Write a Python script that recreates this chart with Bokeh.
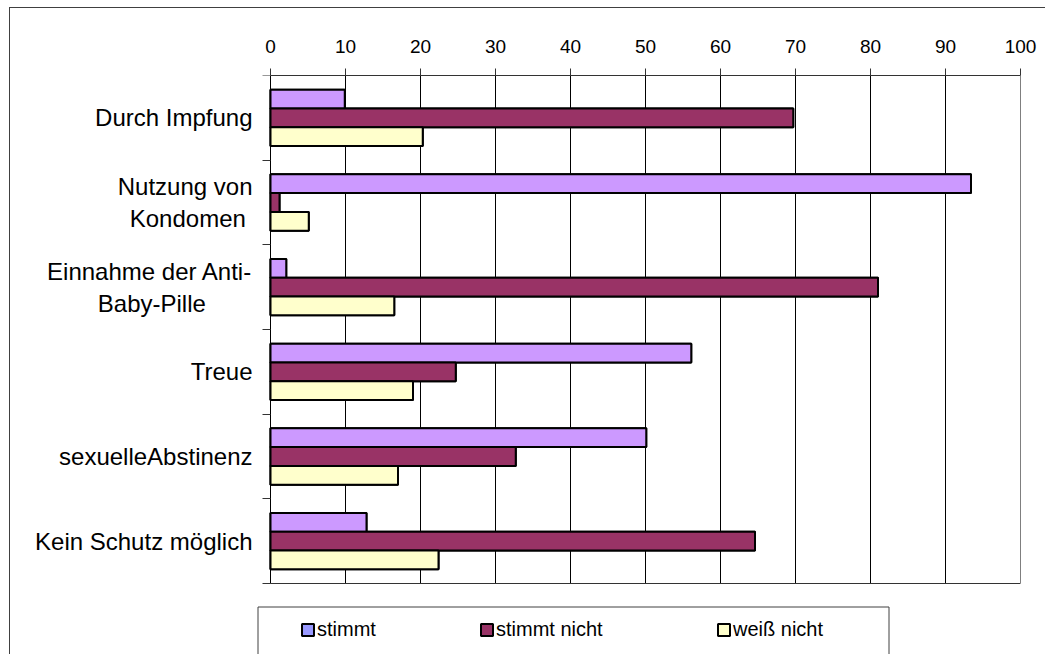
import numpy as np
from bokeh.plotting import figure
from bokeh.layouts import column
from bokeh.models import Range1d, FixedTicker, Legend, LegendItem, ColumnDataSource
from bokeh.core.properties import value
from bokeh.transform import dodge
from bokeh.embed import file_html
from bokeh.resources import INLINE

# Survey: ways to protect oneself – answers in percent
categories = ["Durch Impfung", "Nutzung von\nKondomen ", "Einnahme der Anti-\nBaby-Pille       ",
              "Treue", "sexuelleAbstinenz", "Kein Schutz möglich"]
series_names = ["stimmt", "stimmt nicht", "weiß nicht"]
stimmt = [9.9, 93.4, 2.1, 56.1, 50.1, 12.8]
stimmt_nicht = [69.7, 1.2, 81.0, 24.7, 32.7, 64.6]
weiss_nicht = [20.3, 5.1, 16.5, 19.0, 17.0, 22.4]
x_ticks = list(range(0, 101, 10))

FONT = "Liberation Sans"
bar_colors = ["#CC99FF", "#993366", "#FFFFCC"]
key_colors = ["#9999FF", "#993366", "#FFFFCC"]
EDGE = "#404040"

# page layout, in pixels inside the bordered chart area
W, H = 1035, 646
FRAME_L, FRAME_R, FRAME_T = 15, 1010, 67    # drawing area incl. labels and legend strip
PLOT_L, PLOT_B = 260, 575                   # value 0 / end of the last category
LABEL_GAP = 18                              # category label to value-0 line
LEG_L, LEG_R, LEG_T = 247, 878, 598         # legend frame
KEY_X = [290, 469, 706]                     # left edge of each legend key

ppu = (FRAME_R - PLOT_L) / 100.0            # pixels per percent
n = len(categories)
ppr = (PLOT_B - FRAME_T) / n                # pixels per category row

def x_at(px):
    return (px - PLOT_L) / ppu

def y_at(py):
    return (py - FRAME_T) / ppr

pos = np.arange(n) + 0.5
src = ColumnDataSource(dict(pos=pos, cat=categories, stimmt=stimmt,
                            stimmt_nicht=stimmt_nicht, weiss_nicht=weiss_nicht))

p = figure(width=W, height=H, output_backend="svg", toolbar_location=None,
           x_range=Range1d(x_at(FRAME_L), 100), y_range=Range1d(y_at(H), 0),
           x_axis_location="above", y_axis_location="left",
           min_border_left=FRAME_L, min_border_right=W - FRAME_R,
           min_border_top=FRAME_T, min_border_bottom=0)
p.background_fill_color = "white"
p.border_fill_color = "white"
p.outline_line_color = None
p.grid.visible = False

# vertical grid lines and bottom edge of the plot area
p.segment(x0=x_ticks[1:], y0=0, x1=x_ticks[1:], y1=n, line_color="black", line_width=1)
p.segment(x0=[0], y0=[n], x1=[100], y1=[n], line_color="#333333", line_width=1)

# grouped horizontal bars (key-coloured copies underneath serve the legend)
bh = 0.222
offsets = [-bh, 0.0, bh]
columns = ["stimmt", "stimmt_nicht", "weiss_nicht"]
key_renderers = []
for col, off, kcolor in zip(columns, offsets, key_colors):
    key_renderers.append(
        p.hbar(y=dodge("pos", off), left=0, right=col, height=bh, source=src,
               fill_color=kcolor, line_color="black", line_width=2))
for col, off, color in zip(columns, offsets, bar_colors):
    p.hbar(y=dodge("pos", off), left=0, right=col, height=bh, source=src,
           fill_color=color, line_color="black", line_width=2)

# category labels
p.text(x=x_at(PLOT_L - LABEL_GAP), y="pos", text="cat", source=src,
       text_align="right", text_baseline="middle", text_font=value(FONT),
       text_font_size="24px", text_color="black", text_line_height=1.19)

# value axis on top
xa = p.xaxis[0]
xa.ticker = FixedTicker(ticks=x_ticks)
xa.bounds = (0, 100)
xa.major_tick_out = 7
xa.major_tick_in = 0
xa.minor_tick_line_color = None
xa.axis_line_color = "#333333"
xa.major_tick_line_color = "#333333"
xa.major_label_text_font = FONT
xa.major_label_text_font_size = "19px"
xa.major_label_text_color = "black"
xa.major_label_standoff = 16

# category axis line at value 0 with tick marks between the groups
ya = p.yaxis[0]
ya.fixed_location = 0
ya.bounds = (0, n)
ya.ticker = FixedTicker(ticks=list(pos), minor_ticks=list(range(n + 1)))
ya.major_label_overrides = {float(v): "" for v in pos}
ya.major_label_standoff = 0
ya.major_tick_line_color = None
ya.major_tick_out = 0
ya.major_tick_in = 0
ya.minor_tick_out = 8
ya.minor_tick_in = 0
ya.minor_tick_line_color = "#333333"
ya.axis_line_color = "black"

# legend frame and keys
p.quad(left=[x_at(LEG_L + 0.5)], right=[x_at(LEG_R + 0.5)], top=[y_at(LEG_T + 0.5)],
       bottom=[y_at(H + 10)], fill_color=None, line_color=EDGE, line_width=1)
for name, r, kx in zip(series_names, key_renderers, KEY_X):
    p.add_layout(Legend(items=[LegendItem(label=name, renderers=[r])],
                        location=(kx - FRAME_L, 13), orientation="horizontal",
                        padding=0, margin=0, spacing=0,
                        border_line_color=None, background_fill_alpha=0,
                        glyph_width=15, glyph_height=15, label_height=22,
                        label_standoff=2, label_text_font=FONT,
                        label_text_font_size="20px", label_text_color="black"))

layout = column(p, margin=(7, 0, 0, 9),
                styles={"border-left": f"1px solid {EDGE}",
                        "border-top": f"1px solid {EDGE}"})

open("out.html", "w").write(file_html(layout, INLINE))
